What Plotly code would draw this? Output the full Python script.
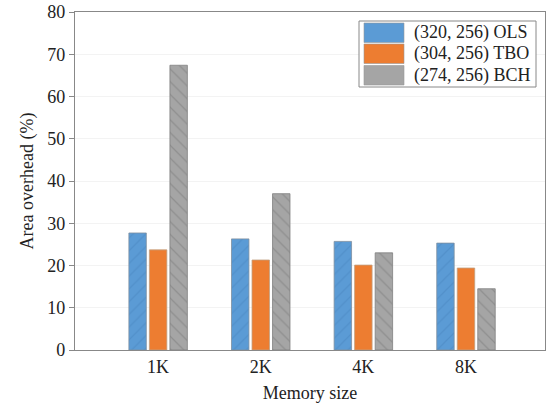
import plotly.graph_objects as go

categories = ["1K", "2K", "4K", "8K"]
ols = [27.7, 26.3, 25.7, 25.3]
tbo = [23.7, 21.3, 20.1, 19.4]
bch = [67.4, 37.0, 23.0, 14.5]
series_names = ["(320, 256) OLS", "(304, 256) TBO", "(274, 256) BCH"]
series_colors = ["#5B9BD5", "#ED7D31", "#A5A5A5"]
y_ticks = [0, 10, 20, 30, 40, 50, 60, 70, 80]

font = "Liberation Serif"
W, H = 555, 405
ML, MR, MT, MB = 75, 10, 12, 55
PW, PH = W - ML - MR, H - MT - MB


def px_to_paper(x, y):
    return (x - ML) / PW, (H - MB - y) / PH


fig = go.Figure()
fig.add_bar(x=categories, y=ols, name=series_names[0],
            marker=dict(color=series_colors[0], line=dict(color="#7f8fa0", width=0.8),
                        pattern=dict(shape="/", fgcolor="#4a86c0", fgopacity=0.5, size=9, solidity=0.15)))
fig.add_bar(x=categories, y=tbo, name=series_names[1],
            marker=dict(color=series_colors[1], line=dict(color="#c0a080", width=0.8)))
fig.add_bar(x=categories, y=bch, name=series_names[2],
            marker=dict(color=series_colors[2], line=dict(color="#808080", width=0.8),
                        pattern=dict(shape="\\", fgcolor="#8a8a8a", fgopacity=0.8, size=9, solidity=0.15)))

# legend drawn as layout decoration (box, swatches, labels)
shapes = []
annotations = []
bx0, by0 = px_to_paper(359, 87)
bx1, by1 = px_to_paper(536, 21)
shapes.append(dict(type="rect", xref="paper", yref="paper", x0=bx0, x1=bx1, y0=by0, y1=by1,
                   line=dict(color="#888", width=1), fillcolor="white", layer="above"))
row_tops = [23, 44, 65.5]
for i, (name, col) in enumerate(zip(series_names, series_colors)):
    sx0, sy1 = px_to_paper(364, row_tops[i])
    sx1, sy0 = px_to_paper(404, row_tops[i] + 19.5)
    shapes.append(dict(type="rect", xref="paper", yref="paper", x0=sx0, x1=sx1, y0=sy0, y1=sy1,
                       line=dict(color="#999", width=0.6), fillcolor=col, layer="above"))
    tx, ty = px_to_paper(412, row_tops[i] + 10)
    annotations.append(dict(xref="paper", yref="paper", x=tx, y=ty, xanchor="left", yanchor="middle",
                            text=name, showarrow=False, font=dict(family=font, size=18, color="#222")))

fig.update_layout(
    width=W, height=H,
    margin=dict(l=ML, r=MR, t=MT, b=MB),
    paper_bgcolor="white", plot_bgcolor="white",
    font=dict(family=font, size=18, color="#222"),
    barmode="group", bargap=0.4, bargroupgap=0.15,
    showlegend=False,
    shapes=shapes, annotations=annotations,
    xaxis=dict(range=[-0.81, 3.77], showline=True, linecolor="#888", linewidth=1.2,
               mirror=True, ticks="", showgrid=False, automargin=False,
               title=dict(text="Memory size", font=dict(family=font, size=18), standoff=10),
               tickfont=dict(family=font, size=18)),
    yaxis=dict(range=[0, 80], tickvals=y_ticks, showline=True, linecolor="#888", linewidth=1.2,
               mirror=True, ticks="outside", ticklen=5, tickcolor="#888", automargin=False,
               showgrid=True, gridcolor="#f3f3f3", gridwidth=1,
               title=dict(text="Area overhead (%)", font=dict(family=font, size=18), standoff=8),
               tickfont=dict(family=font, size=18), zeroline=False),
)
fig.write_html("out.html", config={"displayModeBar": False},
               post_script="document.body.style.margin='0';")
